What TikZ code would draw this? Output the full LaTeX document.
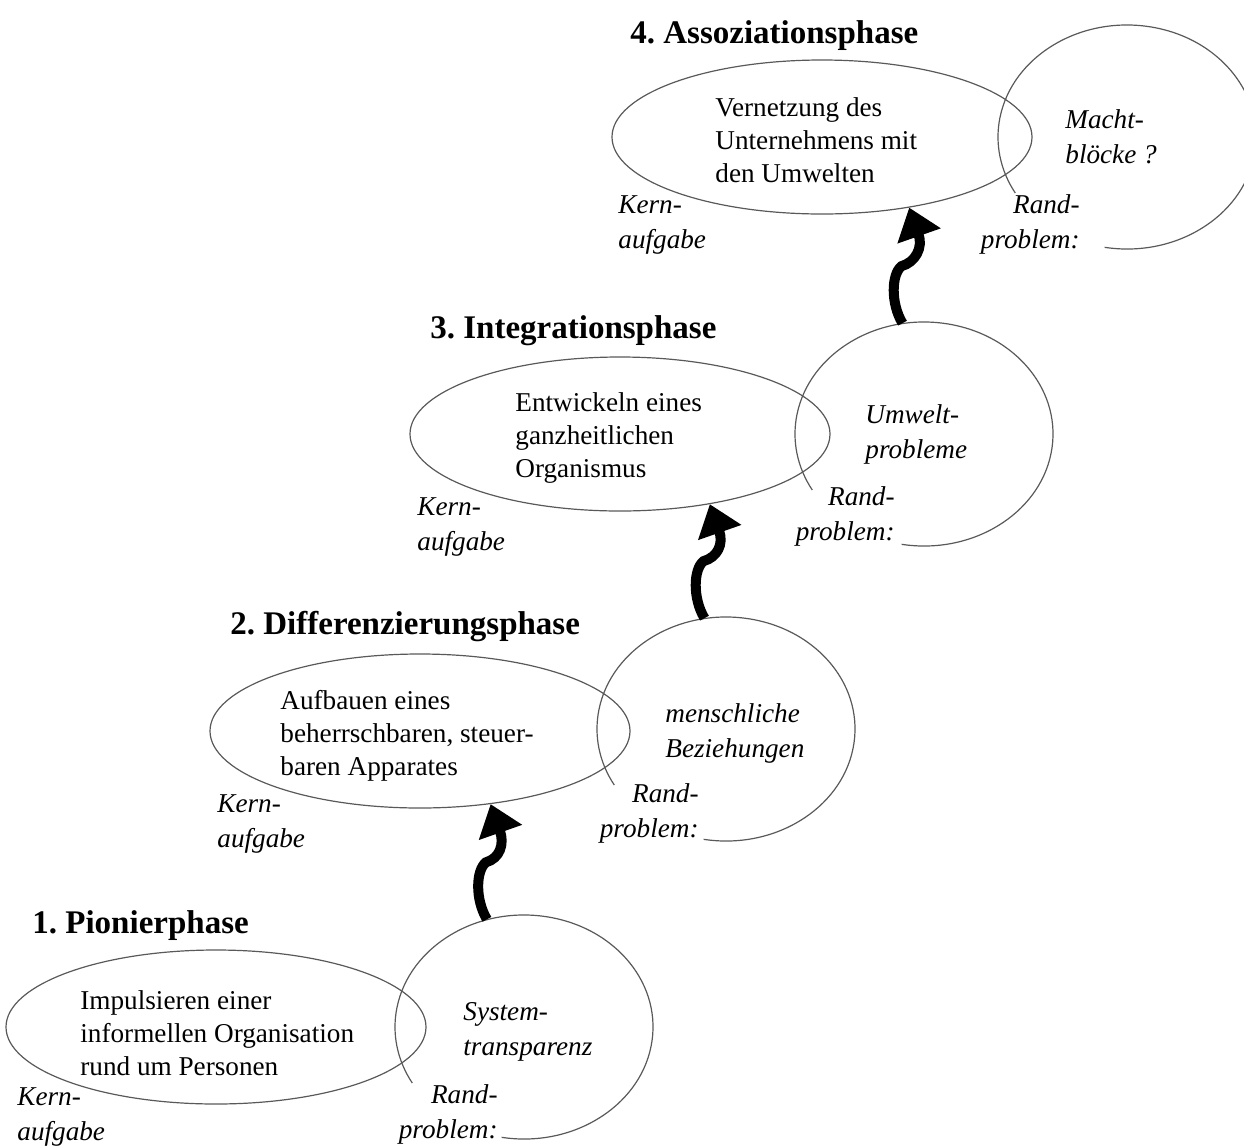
\documentclass[tikz,border=0pt]{standalone}
\usepackage{fontspec}
\setmainfont{Liberation Serif}
\frenchspacing
\usetikzlibrary{shapes.geometric,arrows.meta}

\tikzset{
  kern/.style={draw=black!65, line width=0.6pt, ellipse, minimum width=210pt, minimum height=77pt, inner sep=0pt},
  rand/.style={ellipse, minimum width=129pt, minimum height=112pt, inner sep=0pt},
  randarc/.style={draw=black!65, line width=0.6pt},
  phase/.style={font=\fontsize{16.5}{20}\selectfont\bfseries, inner sep=0pt, anchor=base west},
  task/.style={font=\fontsize{13.6}{16.5}\selectfont, align=left, inner sep=0pt, anchor=base west},
  note/.style={font=\fontsize{13.6}{17.5}\selectfont\itshape, align=left, inner sep=0pt, anchor=base west},
  notr/.style={note, align=right, anchor=base east},
  bolt/.style={line width=5pt, -{Triangle[length=15pt,width=22pt]}}
}

\begin{document}
\begin{tikzpicture}[x=0.5pt,y=-0.5pt]
\useasboundingbox (0,0) rectangle (1244,1147);
\clip (0,0) rectangle (1244,1147);
% phase 1
\node[phase] (t1) at (32,933) {1. Pionierphase};
\node[kern] (k1) at (216,1027) {};
\node[rand] (r1) at (524,1027) {};
\node[task] (a1) at (80,1075) {Impulsieren einer\\informellen Organisation\\rund um Personen};
\node[note] (n1) at (17,1140) {Kern-\\aufgabe};
\node[note] (s1) at (463,1055) {System-\\transparenz};
\node[notr] (p1) at (498,1138) {Rand-\\problem:};
\draw[randarc] ([shift={(-100:64.5pt and 56pt)}]r1.center) arc[start angle=-100,end angle=210,x radius=64.5pt,y radius=56pt];
% phase 2
\node[phase] (t2) at (230,634) {2. Differenzierungsphase};
\node[kern] (k2) at (420,731) {};
\node[rand] (r2) at (726,729) {};
\node[task] (a2) at (280,775) {Aufbauen eines\\beherrschbaren, steuer-\\baren Apparates};
\node[note] (n2) at (217,847) {Kern-\\aufgabe};
\node[note] (s2) at (665,757) {menschliche\\Beziehungen};
\node[notr] (p2) at (699,837) {Rand-\\problem:};
\draw[randarc] ([shift={(-100:64.5pt and 56pt)}]r2.center) arc[start angle=-100,end angle=210,x radius=64.5pt,y radius=56pt];
% phase 3
\node[phase] (t3) at (430,338) {3. Integrationsphase};
\node[kern] (k3) at (620,434) {};
\node[rand] (r3) at (924,434) {};
\node[task] (a3) at (515,477) {Entwickeln eines\\ganzheitlichen\\Organismus};
\node[note] (n3) at (417,550) {Kern-\\aufgabe};
\node[note] (s3) at (865,458) {Umwelt-\\probleme};
\node[notr] (p3) at (895,540) {Rand-\\problem:};
\draw[randarc] ([shift={(-100:64.5pt and 56pt)}]r3.center) arc[start angle=-100,end angle=210,x radius=64.5pt,y radius=56pt];
% phase 4
\node[phase] (t4) at (630,43) {4. Assoziationsphase};
\node[kern] (k4) at (822,137) {};
\node[rand] (r4) at (1127,137) {};
\node[task] (a4) at (715,182) {Vernetzung des\\Unternehmens mit\\den Umwelten};
\node[note] (n4) at (618,248) {Kern-\\aufgabe};
\node[note] (s4) at (1065,163) {Macht-\\blöcke ?};
\node[notr] (p4) at (1080,248) {Rand-\\problem:};
\draw[randarc] ([shift={(-100:64.5pt and 56pt)}]r4.center) arc[start angle=-100,end angle=210,x radius=64.5pt,y radius=56pt];
% transitions
\draw[bolt] (r1.109) .. controls +(-12,-20) and +(-10,8) .. ++(-1,-57) .. controls +(14,-4) and +(14,40) .. (k2.-46);
\draw[bolt] (r2.101) .. controls +(-12,-20) and +(-10,8) .. ++(-1,-57) .. controls +(14,-4) and +(14,40) .. (k3.-38);
\draw[bolt] (r3.101) .. controls +(-12,-20) and +(-10,8) .. ++(-1,-57) .. controls +(14,-4) and +(14,40) .. (k4.-39);
\end{tikzpicture}
\end{document}
